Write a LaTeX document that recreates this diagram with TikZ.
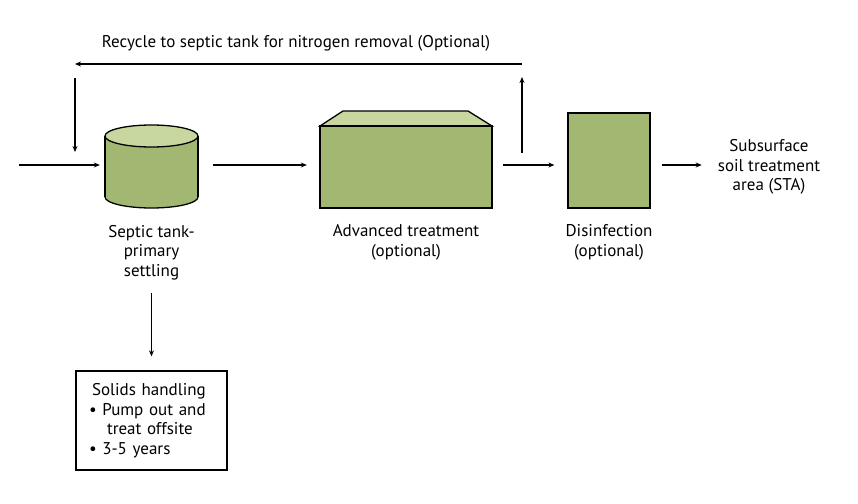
\documentclass[tikz,border=0pt]{standalone}
\usepackage{fontspec}
\setmainfont{PT Sans}
\usetikzlibrary{arrows.meta}
\definecolor{boxgreen}{RGB}{162,184,114}
\definecolor{topgreen}{RGB}{200,215,160}
\begin{document}
\begin{tikzpicture}[x=1pt,y=-1pt,
  every node/.style={font=\fontsize{17}{19.5}\selectfont, inner sep=0pt},
  flow/.style={line width=1.2pt, -{Stealth[length=6pt,width=5pt]}},
  lbl/.style={align=center},
  outline/.style={draw=black, line width=1.3pt}]
\useasboundingbox (0,0) rectangle (858,503);
% cylinder (septic tank)
\node[minimum width=93pt, minimum height=83pt] (tank) at (151.5,166.5) {};
\filldraw[outline, fill=boxgreen] (151.5,197) ellipse [x radius=46.5pt, y radius=11pt];
\fill[boxgreen] (105,136) rectangle (198,197);
\draw[outline] (105,136) -- (105,197) (198,136) -- (198,197);
\filldraw[outline, fill=topgreen] (151.5,136) ellipse [x radius=46.5pt, y radius=11pt];
% advanced treatment box
\node[minimum width=172pt, minimum height=82pt] (adv) at (406,167) {};
\filldraw[outline, fill=topgreen, line join=miter] (320,126) -- (343,111) -- (468,111) -- (492,126) -- cycle;
\filldraw[outline, fill=boxgreen] (320,126) rectangle (492,208);
% disinfection box
\node[outline, fill=boxgreen, minimum width=82pt, minimum height=95pt] (dis) at (609,160.5) {};
% labels
\node[lbl] (tanklbl) at (151.5,252.5) {Septic tank-\\primary\\settling};
\node[lbl] (advlbl) at (406,242.5) {Advanced treatment\\(optional)};
\node[lbl] (dislbl) at (609,242.5) {Disinfection\\(optional)};
\node[lbl] (sta) at (769,167) {Subsurface\\soil treatment\\area (STA)};
\node (reclbl) at (296,43) {Recycle to septic tank for nitrogen removal (Optional)};
% solids box
\node[outline, minimum width=151pt, minimum height=99pt, inner xsep=13pt, text width=125pt, align=left] (solids) at (151.5,420.5)
  {\hspace*{3pt}Solids handling\\• Pump out and\\\hspace*{18pt}treat offsite\\• 3-5 years};
% coordinates
\coordinate (in) at (19,165);
\coordinate (r1) at (522,153);
\coordinate (r2) at (522,77);
\coordinate (r3) at (522,64);
\coordinate (r4) at (75,64);
\coordinate (r5) at (75,78);
\coordinate (r6) at (75,152);
\coordinate (s1) at (151.5,293);
% connectors
\draw[flow, shorten >=5pt] (in) -- (in -| tank.west);
\draw[flow, shorten <=15pt, shorten >=13pt] (tank.east |- 0,165) -- (adv.west |- 0,165);
\draw[flow, shorten <=11pt, shorten >=13pt] (adv.east |- 0,165) -- (dis.west |- 0,165);
\draw[flow, shorten <=11pt, shorten >=16pt] (dis.east |- 0,165) -- (sta.west |- 0,165);
\draw[flow] (r1) -- (r2);
\draw[flow] (r3) -- (r4);
\draw[flow] (r5) -- (r6);
\draw[flow, shorten >=14pt] (s1) -- (solids.north);
\end{tikzpicture}
\end{document}
